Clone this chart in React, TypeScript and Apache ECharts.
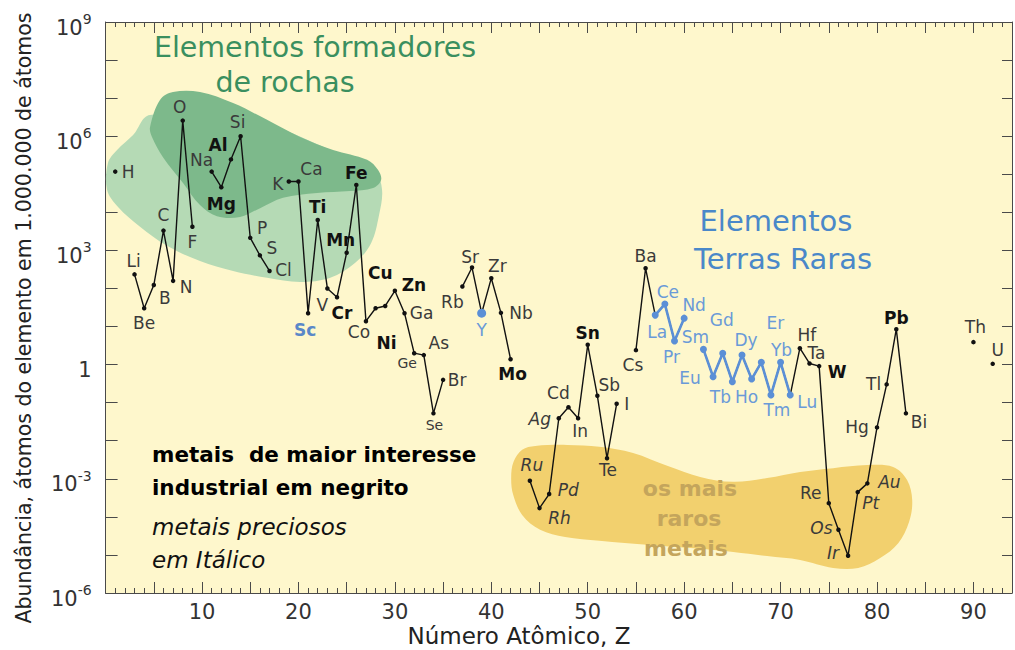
import React, { useEffect, useRef } from "react";
import * as echarts from "echarts";

// ---------- data ----------
const elementSymbols = [
  "H", "Li", "Be", "B", "C", "N", "O", "F",
  "Na", "Mg", "Al", "Si", "P", "S", "Cl",
  "K", "Ca", "Sc", "Ti", "V", "Cr", "Mn", "Fe", "Co", "Ni", "Cu", "Zn", "Ga", "Ge", "As", "Se", "Br",
  "Rb", "Sr", "Y", "Zr", "Nb", "Mo",
  "Ru", "Rh", "Pd", "Ag", "Cd", "In", "Sn", "Sb", "Te", "I",
  "Cs", "Ba",
  "La", "Ce", "Pr", "Nd",
  "Sm", "Eu", "Gd", "Tb", "Dy", "Ho", "Er", "Tm", "Yb", "Lu",
  "Hf", "Ta", "W", "Re", "Os", "Ir", "Pt", "Au", "Hg", "Tl", "Pb", "Bi",
  "Th", "U",
];
const atomicNumbers = [
  1, 3, 4, 5, 6, 7, 8, 9,
  11, 12, 13, 14, 15, 16, 17,
  19, 20, 21, 22, 23, 24, 25, 26, 27, 28, 29, 30, 31, 32, 33, 34, 35,
  37, 38, 39, 40, 41, 42,
  44, 45, 46, 47, 48, 49, 50, 51, 52, 53,
  55, 56,
  57, 58, 59, 60,
  62, 63, 64, 65, 66, 67, 68, 69, 70, 71,
  72, 73, 74, 75, 76, 77, 78, 79, 80, 81, 82, 83,
  90, 92,
];
// log10 of atoms per 10^6 atoms of Si
const log10Abundance = [
  5.07, 2.37, 1.48, 2.09, 3.52, 2.2, 6.41, 3.62,
  5.07, 4.66, 5.39, 6.0, 3.33, 2.87, 2.46,
  4.81, 4.81, 1.35, 3.8, 2.0, 1.77, 2.94, 4.72, 1.14, 1.48, 1.54, 1.94, 1.35, 0.3, 0.25, -1.28, -0.4,
  2.05, 2.55, 1.35, 2.27, 1.36, 0.14,
  -3.05, -3.77, -3.4, -1.41, -1.12, -1.41, 0.52, -0.82, -2.46, -1.03,
  0.38, 2.53,
  1.3, 1.59, 0.62, 1.22,
  0.4, -0.32, 0.3, -0.45, 0.25, -0.38, 0.06, -0.8, 0.06, -0.8,
  0.43, 0.03, -0.04, -3.64, -4.34, -5.02, -3.35, -3.12, -1.65, -0.52, 0.93, -1.28,
  0.59, 0.02,
];
const xTickLabels = [10, 20, 30, 40, 50, 60, 70, 80, 90];
const yTickExponents = [-6, -3, 0, 3, 6, 9];

const rareEarths = ["La", "Ce", "Pr", "Nd", "Sm", "Eu", "Gd", "Tb", "Dy", "Ho", "Er", "Tm", "Yb", "Lu"];
const industrialMetals = ["Mg", "Al", "Ti", "Cr", "Mn", "Fe", "Ni", "Cu", "Zn", "Mo", "Sn", "W", "Pb", "Sc"];
const preciousMetals = ["Ru", "Rh", "Pd", "Ag", "Os", "Ir", "Pt", "Au"];

// shaded regions, in (Z, log10 abundance)
const rockOuterRegion = [
  [4.6, 6.56], [2.85, 6.03], [1.19, 5.64], [0.25, 5.3], [0.15, 4.59], [1.29, 4.14], [3.57, 3.62],
  [6.37, 3.12], [9.79, 2.72], [13.22, 2.46], [16.74, 2.28], [20.17, 2.17], [23.3, 2.28], [25.86, 2.67],
  [27.53, 3.19], [28.36, 3.93], [28.67, 4.59], [27.95, 5.06], [23.3, 5.64], [15.0, 6.43],
];
const rockInnerRegion = [
  [4.61, 6.24], [5.64, 6.95], [6.99, 7.16], [9.79, 7.16], [13.22, 6.87], [16.74, 6.43], [20.17, 5.98],
  [23.59, 5.64], [27.12, 5.38], [28.26, 5.11], [28.57, 4.85], [27.74, 4.64], [25.35, 4.56], [21.93, 4.51],
  [18.4, 4.38], [16.02, 4.11], [13.94, 3.88], [11.55, 3.9], [9.79, 4.19], [8.03, 4.77], [5.95, 5.45], [4.81, 5.98],
];
const rareMetalsRegion = [
  [42.3, -2.56], [43.2, -2.24], [44.55, -2.14], [47.87, -2.11], [51.2, -2.16], [54.7, -2.32], [58.24, -2.66],
  [61.66, -2.95], [65.09, -3.08], [68.6, -2.98], [72.03, -2.82], [75.45, -2.72], [78.98, -2.64], [81.67, -2.69],
  [83.12, -3.03], [83.65, -3.56], [83.33, -4.13], [82.2, -4.69], [80.33, -5.08], [78.05, -5.34], [75.45, -5.34],
  [72.03, -5.13], [68.6, -5.03], [65.09, -4.92], [61.66, -4.84], [56.47, -4.74], [51.2, -4.63], [47.65, -4.53],
  [45.06, -4.34], [43.2, -3.95], [42.27, -3.42], [42.06, -2.98],
];

// ---------- styles ----------
const FONT = "DejaVu Sans";
const labelOffsets: Record<string, [number, number]> = {
  H: [13, 0], Li: [-1, -13], Be: [0, 15], B: [11, 13], C: [0, -16], N: [13, 6], O: [-3, -14], F: [0, 15],
  Na: [-10, -12], Mg: [0, 17], Al: [-13, -14], Si: [-3, -14], P: [12, -10], S: [12, -7], Cl: [14, -1],
  K: [-11, 3], Ca: [13, -12], Sc: [-3, 17], Ti: [0, -13], V: [-5, 17], Cr: [5, 16], Mn: [-6, -13],
  Fe: [0, -12], Co: [-7, 11], Ni: [11, 35], Cu: [-5, -33], Zn: [19, -6], Ga: [17, 0], Ge: [-7, 10],
  As: [15, -12], Se: [1, 12], Br: [14, 0], Rb: [-10, 15], Sr: [-2, -11], Y: [0, 17], Zr: [6, -12],
  Nb: [20, 0], Mo: [2, 15], Ru: [2, -16], Rh: [20, 10], Pd: [19, -4], Ag: [-19, 1], Cd: [-10, -14],
  In: [2, 13], Sn: [0, -12], Sb: [12, -11], Te: [1, 12], I: [10, 0], Cs: [-3, 15], Ba: [0, -12],
  La: [2, 17], Ce: [3, -12], Pr: [-3, 16], Nd: [10, -13], Sm: [-8, -12], Eu: [-23, 1], Gd: [-1, -33],
  Tb: [-12, 15], Dy: [4, -15], Ho: [-5, 18], Er: [14, -39], Tm: [6, 15], Yb: [1, -12], Lu: [17, 7],
  Hf: [7, -13], Ta: [7, -10], W: [18, 6], Re: [-18, -10], Os: [-17, -2], Ir: [-15, -3], Pt: [13, 11],
  Au: [22, -1], Hg: [-20, 0], Tl: [-13, 0], Pb: [0, -11], Bi: [13, 9], Th: [2, -15], U: [5, -14],
};
const BLUE_LINE = "#5b8fd6";
const BLUE_TEXT = "#6a9ad8";
const LABEL_GRAY = "#3a3a3a";

function buildOption() {
  const mainData: any[] = [];
  const reeData: any[] = [];
  let prevRee = -10;
  elementSymbols.forEach((sym, i) => {
    const z = atomicNumbers[i];
    const v = log10Abundance[i];
    if (i > 0 && z - atomicNumbers[i - 1] > 1) mainData.push({ value: [z - 1, "-"] });
    const isBlue = rareEarths.includes(sym) || sym === "Sc" || sym === "Y";
    const bold = industrialMetals.includes(sym);
    const italic = preciousMetals.includes(sym);
    const small = sym === "Ge" || sym === "Se";
    const item: any = {
      value: [z, v],
      label: {
        show: true,
        formatter: sym,
        position: "inside",
        offset: labelOffsets[sym] || [0, -12],
        color: isBlue ? (sym === "Sc" ? "#5a88c8" : BLUE_TEXT) : bold ? "#111" : LABEL_GRAY,
        fontSize: small ? 14 : 17,
        fontWeight: bold ? "bold" : "normal",
        fontStyle: italic ? "italic" : "normal",
        fontFamily: FONT,
      },
    };
    if (sym === "Y") {
      item.symbolSize = 9;
      item.itemStyle = { color: BLUE_LINE };
    }
    mainData.push(item);
    if (rareEarths.includes(sym)) {
      if (z - prevRee > 1 && reeData.length) reeData.push({ value: [z - 1, "-"] });
      reeData.push({ value: [z, v] });
      prevRee = z;
    }
  });

  const region = (pts: number[][], fill: string) => ({
    type: "custom",
    silent: true,
    z: 1,
    clip: true,
    data: [pts[0]],
    renderItem: (_p: any, api: any) => ({
      type: "polygon",
      shape: { points: pts.map((p) => api.coord(p)), smooth: 0.35 },
      style: { fill },
    }),
  });

  const axisLineStyle = { color: "#4a4a4a", width: 1 };
  const xCommon = {
    type: "value",
    min: 0,
    max: 94,
    interval: 5,
    splitLine: { show: false },
    axisLine: { show: true, onZero: false, lineStyle: axisLineStyle },
    axisTick: { show: true, inside: true, length: 11, lineStyle: axisLineStyle },
    minorTick: { show: true, splitNumber: 5, length: 5, lineStyle: axisLineStyle },
  };
  const yCommon = {
    type: "value",
    min: -6,
    max: 9,
    interval: 1,
    splitLine: { show: false },
    axisLine: { show: true, onZero: false, lineStyle: axisLineStyle },
  };

  const text = (t: string, x: number, y: number, extra: any) => ({
    type: "text",
    x,
    y,
    z: 100,
    style: { text: t, fontFamily: FONT, verticalAlign: "middle", ...extra },
  });

  return {
    animation: false,
    textStyle: { fontFamily: FONT },
    grid: {
      left: 105.6,
      right: 3,
      top: 22,
      bottom: 57,
      show: true,
      backgroundColor: "#fef7cc",
      borderWidth: 0,
    },
    xAxis: [
      {
        ...xCommon,
        position: "bottom",
        axisLabel: {
          margin: 8,
          fontSize: 21,
          color: "#333",
          fontFamily: FONT,
          formatter: (v: number) => (xTickLabels.includes(v) ? String(v) : ""),
        },
      },
      { ...xCommon, position: "top", axisLabel: { show: false } },
    ],
    yAxis: [
      {
        ...yCommon,
        position: "left",
        axisTick: { show: true, inside: true, length: 12, lineStyle: axisLineStyle },
        axisLabel: {
          margin: 14,
          color: "#333",
          padding: [6, 0, 0, 0],
          formatter: (v: number) => {
            if (!yTickExponents.includes(v)) return "";
            if (v === 0) return "{b|1}";
            return "{b|10}{s|" + v + "}";
          },
          rich: {
            b: { fontSize: 21, lineHeight: 26, verticalAlign: "bottom", fontFamily: FONT, color: "#333" },
            s: { fontSize: 14, lineHeight: 16, verticalAlign: "top", fontFamily: FONT, color: "#333" },
          },
        },
      },
      {
        ...yCommon,
        position: "right",
        axisTick: { show: true, inside: true, length: 10, lineStyle: axisLineStyle },
        axisLabel: { show: false },
      },
    ],
    series: [
      region(rockOuterRegion, "#b5dab5"),
      region(rockInnerRegion, "#7db98b"),
      region(rareMetalsRegion, "#f2d06e"),
      {
        type: "line",
        z: 3,
        data: mainData,
        connectNulls: false,
        showSymbol: true,
        symbol: "circle",
        symbolSize: 4.5,
        itemStyle: { color: "#111" },
        lineStyle: { color: "#111", width: 1.4 },
        emphasis: { disabled: true },
      },
      {
        type: "line",
        z: 4,
        data: reeData,
        connectNulls: false,
        symbol: "circle",
        symbolSize: 7,
        itemStyle: { color: BLUE_LINE },
        lineStyle: { color: BLUE_LINE, width: 2.6 },
        emphasis: { disabled: true },
      },
    ],
    graphic: [
      text("Elementos formadores", 315, 47, { fontSize: 28.5, fill: "#3a8f5f", align: "center" }),
      text("de rochas", 285, 82, { fontSize: 28.5, fill: "#3a8f5f", align: "center" }),
      text("Elementos", 776, 221, { fontSize: 29, fill: "#4a88c9", align: "center" }),
      text("Terras Raras", 783, 259, { fontSize: 29, fill: "#4a88c9", align: "center" }),
      text("metais  de maior interesse", 152, 454, { fontSize: 21.5, fontWeight: "bold", fill: "#000", align: "left" }),
      text("industrial em negrito", 152, 487, { fontSize: 21.5, fontWeight: "bold", fill: "#000", align: "left" }),
      text("metais preciosos", 152, 527, { fontSize: 23, fontStyle: "italic", fill: "#111", align: "left" }),
      text("em Itálico", 152, 560, { fontSize: 23, fontStyle: "italic", fill: "#111", align: "left" }),
      text("os mais", 690, 488, { fontSize: 22, fontWeight: "bold", fill: "#c4a55c", align: "center" }),
      text("raros", 689, 518, { fontSize: 22, fontWeight: "bold", fill: "#c4a55c", align: "center" }),
      text("metais", 686, 548, { fontSize: 22, fontWeight: "bold", fill: "#c4a55c", align: "center" }),
      text("Número Atômico, Z", 519, 636, { fontSize: 23, fill: "#222", align: "center" }),
      {
        type: "text",
        x: 24,
        y: 318,
        rotation: Math.PI / 2,
        z: 100,
        style: {
          text: "Abundância, átomos do elemento em 1.000.000 de átomos",
          fontFamily: FONT,
          fontSize: 20.5,
          fill: "#222",
          align: "center",
          verticalAlign: "middle",
        },
      },
    ],
  };
}

export default function App() {
  const ref = useRef<HTMLDivElement>(null);
  useEffect(() => {
    document.body.style.margin = "0";
    const chart = echarts.init(ref.current!, null, { renderer: "svg" });
    chart.setOption(buildOption() as any);
    return () => chart.dispose();
  }, []);
  return <div ref={ref} style={{ width: 1015, height: 650, background: "#fff" }} />;
}
